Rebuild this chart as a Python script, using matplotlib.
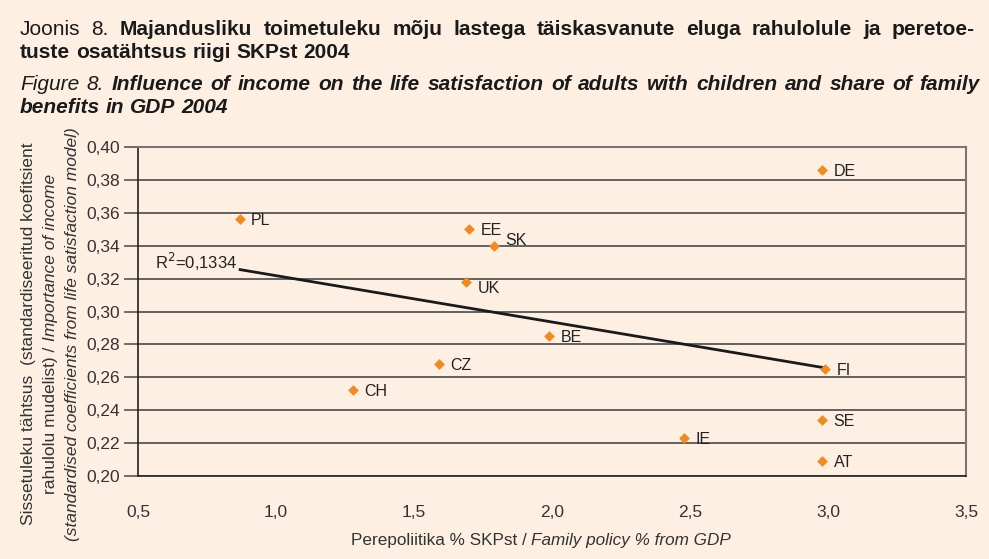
import matplotlib.pyplot as plt
import numpy as np

BG = "#fdf0e3"
ORANGE = "#f4891e"
TXT = "#333333"

countries = ["PL", "DE", "EE", "SK", "UK", "BE", "CZ", "CH", "FI", "SE", "IE", "AT"]
family_policy = [0.87, 2.98, 1.70, 1.79, 1.69, 1.99, 1.59, 1.28, 2.99, 2.98, 2.48, 2.98]
income_importance = [0.356, 0.386, 0.350, 0.340, 0.318, 0.285, 0.268, 0.252, 0.265, 0.234, 0.223, 0.209]
x_ticks = [0.5, 1.0, 1.5, 2.0, 2.5, 3.0, 3.5]
y_ticks = [0.20, 0.22, 0.24, 0.26, 0.28, 0.30, 0.32, 0.34, 0.36, 0.38, 0.40]
r2_text = "R$^{2}$=0,1334"

title_font = "Liberation Sans"
body_font = "Liberation Sans"

fig = plt.figure(figsize=(9.89, 5.59), dpi=100, facecolor=BG)
ax = fig.add_axes([138 / 989, 1 - 476 / 559, 828 / 989, 329 / 559], facecolor=BG)

ax.scatter(family_policy, income_importance, marker="D", s=30, color=ORANGE, zorder=3,
           linewidths=0)

# label offsets in points (dx, dy)
label_offsets = {"SK": (8, 4), "UK": (8, -5)}
for c, xv, yv in zip(countries, family_policy, income_importance):
    dx, dy = label_offsets.get(c, (8, -1))
    ax.annotate(c, (xv, yv), xytext=(dx, dy), textcoords="offset points",
                ha="left", va="center", fontsize=11.5, color="#222222", family=body_font)

# linear trend
k, b = np.polyfit(family_policy, income_importance, 1)
xs = np.array([min(family_policy), max(family_policy)])
ax.plot(xs, k * xs + b, color="#1a1a1a", lw=2, zorder=2)
ax.text(0.56, 0.330, r2_text, fontsize=12, color="#222222", family=body_font,
        ha="left", va="center")

ax.set_xlim(0.5, 3.5)
ax.set_ylim(0.20, 0.40)
ax.set_xticks(x_ticks)
ax.set_xticklabels([f"{v:.1f}".replace(".", ",") for v in x_ticks])
ax.set_yticks(y_ticks)
ax.set_yticklabels([f"{v:.2f}".replace(".", ",") for v in y_ticks])
ax.tick_params(axis="x", length=0, pad=21, labelsize=12.5, labelcolor=TXT)
ax.tick_params(axis="y", length=10, width=1.2, color="#555555", pad=3, labelsize=12.5,
               labelcolor=TXT)
for t in ax.get_xticklabels() + ax.get_yticklabels():
    t.set_family(body_font)
ax.grid(axis="y", color="#4a4a4a", lw=1.2)
ax.set_axisbelow(True)
ax.spines["left"].set_color("#222222")
ax.spines["bottom"].set_color("#222222")
ax.spines["left"].set_linewidth(1.2)
ax.spines["bottom"].set_linewidth(1.2)
ax.spines["top"].set_color("#7a7570")
ax.spines["right"].set_color("#7a7570")
ax.spines["top"].set_linewidth(1.5)
ax.spines["right"].set_linewidth(1.5)

renderer = fig.canvas.get_renderer()
W, H = 989, 559


def width_of(s, size, family, weight="normal", style="normal"):
    t = fig.text(0, 0, s, fontsize=size, family=family, weight=weight, style=style)
    w = t.get_window_extent(renderer).width
    t.remove()
    return w


def run(parts, x, y, size, family, right=None):
    # text in pieces of different style; if right is given, justify words up to it
    words = []
    for s, weight, style in parts:
        for wd in s.split():
            words.append((wd, weight, style))
    ws = [width_of(wd, size, family, we, st) for wd, we, st in words]
    if right is None:
        gap = width_of("a b", size, family) - width_of("ab", size, family)
    else:
        gap = (right - x - sum(ws)) / (len(words) - 1)
    for (wd, weight, style), w in zip(words, ws):
        fig.text(x / W, 1 - y / H, wd, fontsize=size, family=family, weight=weight,
                 style=style, color="#1a1a1a", ha="left", va="baseline")
        x += w + gap


line1 = [("Joonis 8.", "normal", "normal"),
         ("Majandusliku toimetuleku mõju lastega täiskasvanute eluga rahulolule ja peretoe-",
          "bold", "normal")]
line3 = [("Figure 8.", "normal", "italic"),
         ("Influence of income on the life satisfaction of adults with children and share of family",
          "bold", "italic")]
# fit font size to the widest title line
natural = max(sum(width_of(s + " ", 14, title_font, we, st) for s, we, st in line)
              for line in (line1, line3))
tsize = min(15, 14 * 955 / natural)

run(line1, 20, 35, tsize, title_font, right=975)
run([("tuste osatähtsus riigi SKPst 2004", "bold", "normal")], 20, 58, tsize, title_font)
run(line3, 20, 90, tsize, title_font, right=980)
run([("benefits in GDP 2004", "bold", "italic")], 20, 113, tsize, title_font)


def vrun(parts, x, yc, size):
    # vertical text in pieces, centred at yc (pixels from top)
    tmp = []
    for s, style in parts:
        t = fig.text(0, 0, s, fontsize=size, family=body_font, style=style, rotation=90)
        tmp.append(t.get_window_extent(renderer).height)
        t.remove()
    y = H - yc - sum(tmp) / 2
    for (s, style), h in zip(parts, tmp):
        fig.text(x / W, y / H, s, fontsize=size, family=body_font, style=style, rotation=90,
                 color=TXT, ha="center", va="bottom")
        y += h


vrun([("Sissetuleku tähtsus  (standardiseeritud koefitsient", "normal")], 29, 334, 12.5)
vrun([("rahulolu mudelist) / ", "normal"), ("Importance of income", "italic")], 51, 334, 12.5)
vrun([("(standardised coefficients from life satisfaction model)", "italic")], 73, 334, 12.5)

xl_parts = [("Perepoliitika % SKPst / ", "normal"), ("Family policy % from GDP", "italic")]
widths = [width_of(s, 12.3, body_font, "normal", st) for s, st in xl_parts]
xx = 541 - sum(widths) / 2
for (s, style), w in zip(xl_parts, widths):
    fig.text(xx / W, 1 - 540 / H, s, fontsize=12.3, family=body_font, style=style,
             color=TXT, ha="left", va="center")
    xx += w

fig.savefig("out.png", dpi=100, facecolor=BG)
